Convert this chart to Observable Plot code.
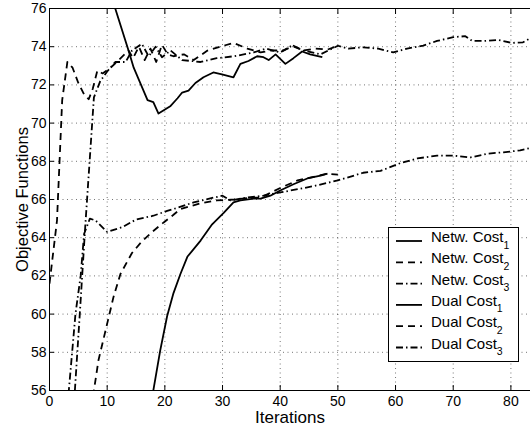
<!DOCTYPE html>
<html><head><meta charset="utf-8">
<script src="https://cdn.jsdelivr.net/npm/d3@7"></script>
<script src="https://cdn.jsdelivr.net/npm/@observablehq/plot@0.6"></script>
<style>
body{margin:0;background:#fff;}
#wrap{position:relative;width:530px;height:432px;overflow:hidden;font-family:"Liberation Sans",Arial,Helvetica,sans-serif;background:#fff;}
#legend{position:absolute;left:388px;top:227px;}
</style></head><body><div id="wrap"></div>
<script>
const xTicks = [0, 10, 20, 30, 40, 50, 60, 70, 80];
const yTicks = [56, 58, 60, 62, 64, 66, 68, 70, 72, 74, 76];

const netw1X = [9, 11.4, 13.7, 14.6, 15.8, 17, 18, 18.9, 21, 22.2, 23, 24.1, 25.3, 26.7, 28.4, 29.9, 31.9, 33.1, 34.5, 36, 37.1, 38, 39.2, 40.9, 42.3, 43.8, 45.2, 47.3];
const netw1Y = [78.6, 76.0, 73.8, 72.9, 72.05, 71.2, 71.1, 70.5, 70.9, 71.3, 71.6, 71.7, 72.1, 72.4, 72.65, 72.55, 72.4, 73.1, 73.25, 73.5, 73.45, 73.3, 73.6, 73.1, 73.4, 73.75, 73.6, 73.45];

const netw2X = [0, 1.3, 2.2, 3.1, 4, 5, 6, 6.8, 7.5, 8.3, 9.2, 10.6, 12, 13.7, 14.5, 15.5, 16.5, 17.5, 18.5, 19.5, 20.5, 21.5, 23.3, 25, 27.4, 29.6, 31.9, 34.3, 36.6, 38.3, 40.6, 42.3, 44, 46, 48.2, 50];
const netw2Y = [61.6, 64.9, 71.2, 73.2, 72.9, 72.1, 71.5, 71.25, 71.8, 72.75, 72.6, 72.9, 73.3, 73.8, 73.4, 74.0, 73.3, 73.9, 73.2, 74.1, 73.6, 73.5, 73.6, 73.3, 73.8, 74.0, 74.2, 73.9, 73.7, 73.8, 73.8, 74.05, 73.8, 73.9, 73.85, 74.05];

const netw3X = [3.6, 4.4, 5.25, 6.2, 7.0, 7.7, 8.8, 10, 11.4, 13.2, 14.3, 16, 17.2, 18.4, 19.5, 21, 23, 26.2, 29, 32, 35.4, 37.5, 40, 42, 44, 47, 50, 51.8, 54.4, 57, 59.6, 62, 64.8, 67.2, 70, 72.1, 73.3, 75.2, 77.8, 80.2, 82.1, 83.4, 84];
const netw3Y = [52.2, 56, 60, 64.6, 68.2, 71.35, 72.2, 72.7, 73.2, 73.2, 73.8, 74.15, 73.5, 74.0, 73.45, 73.8, 73.3, 73.2, 73.4, 73.5, 73.7, 73.9, 73.7, 74.05, 73.8, 73.6, 74.05, 73.9, 73.97, 73.9, 73.7, 73.9, 74.06, 74.3, 74.5, 74.55, 74.3, 74.3, 74.35, 74.2, 74.23, 74.45, 74.5];

const dual1X = [17.5, 18, 19.2, 20.4, 21.5, 22.7, 23.9, 26.2, 28.2, 30.2, 31.9, 33.1, 35.4, 36.6, 38.3, 40, 42.3, 44.7, 47, 48.2];
const dual1Y = [53.5, 56, 58.1, 59.9, 61.1, 62.1, 63.0, 63.85, 64.7, 65.3, 65.85, 65.95, 66.05, 66.05, 66.2, 66.47, 66.8, 67.1, 67.25, 67.35];

const dual2X = [7.2, 7.7, 8.5, 10, 11.1, 12.3, 14.3, 16, 17.8, 19.8, 21.5, 22.7, 26.2, 29, 32, 35.4, 36.6, 40, 43, 45.2, 48.2, 50];
const dual2Y = [53.8, 56, 57.6, 59.5, 60.9, 62.1, 63.2, 63.8, 64.3, 64.8, 65.2, 65.5, 65.8, 65.95, 66.0, 66.1, 66.1, 66.6, 67.0, 67.15, 67.35, 67.3];

const dual3X = [2.9, 3.35, 4.5, 5.4, 6.0, 7.0, 8.0, 10, 12.6, 15, 18, 20.4, 22, 25, 28.5, 30, 31.4, 34.3, 37.1, 40, 41.8, 45.8, 50, 54.4, 57.4, 60.8, 63.8, 67.2, 70, 73, 75.9, 78.7, 81.6, 83.4, 84];
const dual3Y = [54.3, 56, 60, 62, 64.2, 65.0, 64.9, 64.3, 64.55, 64.95, 65.15, 65.4, 65.55, 65.85, 66.1, 66.2, 65.95, 66.1, 66.2, 66.37, 66.47, 66.7, 67.0, 67.4, 67.5, 67.9, 68.15, 68.3, 68.3, 68.2, 68.4, 68.47, 68.57, 68.7, 68.75];

const seriesNames = ["Netw. Cost", "Netw. Cost", "Netw. Cost", "Dual Cost", "Dual Cost", "Dual Cost"];
const seriesSubs = ["1", "2", "3", "1", "2", "3"];
const seriesX = [netw1X, netw2X, netw3X, dual1X, dual2X, dual3X];
const seriesY = [netw1Y, netw2Y, netw3Y, dual1Y, dual2Y, dual3Y];

// styles (kept apart from data)
const DASH = {solid: null, dashed: "7,5", dashdot: "7,3,1.5,3"};
const seriesDash = [DASH.solid, DASH.dashed, DASH.dashdot, DASH.solid, DASH.dashed, DASH.dashdot];

const rows = [];
seriesX.forEach((xs, i) => xs.forEach((x, j) => rows.push({series: i, x, y: seriesY[i][j]})));

const FONT = '"Liberation Sans", Arial, Helvetica, sans-serif';

const lineMarks = seriesX.map((_, i) => Plot.line(rows.filter(d => d.series === i), {
  x: "x", y: "y", stroke: "#000", strokeWidth: 1.8,
  strokeDasharray: seriesDash[i], strokeLinecap: "butt", strokeLinejoin: "round",
  clip: true
}));

const chart = Plot.plot({
  width: 530, height: 432,
  marginLeft: 49, marginRight: 0, marginTop: 8, marginBottom: 42,
  style: {fontFamily: FONT, fontSize: "14px", color: "#000", background: "#fff", overflow: "visible"},
  x: {domain: [0, 83.4]},
  y: {domain: [56, 76]},
  marks: [
    Plot.gridX(xTicks.filter(t => t > 0), {stroke: "#000", strokeOpacity: 0.55, strokeDasharray: "1,3.5"}),
    Plot.gridY(yTicks.filter(t => t > 56 && t < 76), {stroke: "#000", strokeOpacity: 0.55, strokeDasharray: "1,3.5"}),
    ...lineMarks,
    Plot.ruleX([0], {stroke: "#000", strokeWidth: 1}),
    Plot.ruleY([56, 76], {stroke: "#000", strokeWidth: 1}),
    Plot.axisX(xTicks, {anchor: "bottom", tickSize: 0, tickPadding: 6, label: null, fontSize: 14}),
    Plot.axisX(xTicks, {anchor: "bottom", tickSize: -5, fill: "none", label: null}),
    Plot.axisX(xTicks, {anchor: "top", tickSize: -5, fill: "none", label: null}),
    Plot.axisY(yTicks, {anchor: "left", tickSize: 0, tickPadding: 3, label: null, fontSize: 14}),
    Plot.axisY(yTicks, {anchor: "left", tickSize: -5, fill: "none", label: null}),
    Plot.text(["Iterations"], {frameAnchor: "bottom", lineAnchor: "middle", textAnchor: "middle", dy: 27.5, fontSize: 17, fill: "#000"}),
    Plot.text(["Objective Functions"], {frameAnchor: "left", lineAnchor: "middle", textAnchor: "middle", dx: -26.5, rotate: -90, fontSize: 16.5, fill: "#000"})
  ]
});
document.getElementById("wrap").appendChild(chart);

// Legend overlay
const lw = 131, lh = 135;
const leg = d3.select("#wrap").append("svg").attr("id", "legend")
  .attr("width", lw).attr("height", lh);
leg.append("rect").attr("x", 0.5).attr("y", 0.5).attr("width", lw - 1).attr("height", lh - 1)
  .attr("fill", "#fff").attr("stroke", "#000").attr("stroke-width", 1);
seriesNames.forEach((name, i) => {
  const base = 15 + i * 21.3;
  leg.append("line").attr("x1", 8).attr("x2", 34).attr("y1", base - 1).attr("y2", base - 1)
    .attr("stroke", "#000").attr("stroke-width", 1.8)
    .attr("stroke-dasharray", seriesDash[i]);
  const t = leg.append("text").attr("x", 43).attr("y", base)
    .attr("font-family", FONT).attr("font-size", 15).attr("fill", "#000");
  t.append("tspan").text(name);
  t.append("tspan").attr("dy", 6.5).attr("font-size", 10.5).text(seriesSubs[i]);
});
</script>
</body></html>
